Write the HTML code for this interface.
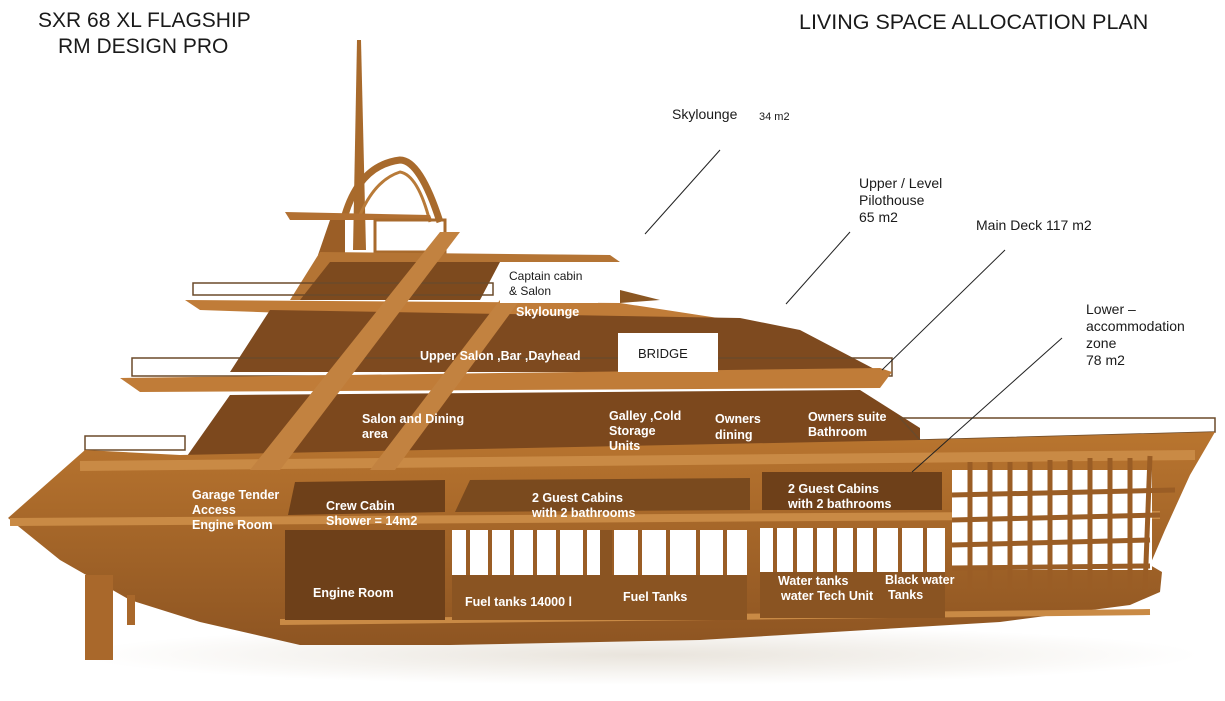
<!DOCTYPE html>
<html><head><meta charset="utf-8"><style>
html,body{margin:0;padding:0;background:#fff;}
svg{display:block}
.t{font-family:"Liberation Sans",sans-serif;fill:#1a1a1a}
.w{font-family:"Liberation Sans",sans-serif;fill:#fff;font-weight:bold;font-size:12.5px}
</style></head><body>
<svg width="1225" height="701" viewBox="0 0 1225 701" xmlns="http://www.w3.org/2000/svg">
<defs>
<linearGradient id="hull" x1="0" y1="0" x2="0" y2="1">
<stop offset="0" stop-color="#b9752f"/><stop offset="1" stop-color="#8e5522"/></linearGradient>
<radialGradient id="sh" cx="0.5" cy="0.5" r="0.5"><stop offset="0" stop-color="#e9e4dc"/><stop offset="1" stop-color="#fff"/></radialGradient>
</defs>
<rect width="1225" height="701" fill="#fff"/>
<ellipse cx="640" cy="655" rx="560" ry="30" fill="url(#sh)"/>
<!-- titles -->
<text class="t" x="38" y="27" font-size="21">SXR 68 XL FLAGSHIP</text>
<text class="t" x="58" y="53" font-size="21">RM DESIGN PRO</text>
<text class="t" x="799" y="29" font-size="21.5">LIVING SPACE ALLOCATION PLAN</text>
<text class="t" x="672" y="119" font-size="14">Skylounge</text>
<text class="t" x="759" y="120" font-size="11">34 m2</text>
<text class="t" x="859" y="188" font-size="14">Upper / Level</text>
<text class="t" x="859" y="205" font-size="14">Pilothouse</text>
<text class="t" x="859" y="222" font-size="14">65 m2</text>
<text class="t" x="976" y="230" font-size="14">Main Deck  117 m2</text>
<text class="t" x="1086" y="314" font-size="14">Lower –</text>
<text class="t" x="1086" y="331" font-size="14">accommodation</text>
<text class="t" x="1086" y="348" font-size="14">zone</text>
<text class="t" x="1086" y="365" font-size="14">78 m2</text>

<!-- mast -->
<polygon points="353,250 357,40 361,40 366,250" fill="#a86a2c"/>
<path d="M345,215 Q360,165 400,160 Q420,160 440,222" fill="none" stroke="#a86a2c" stroke-width="7"/>
<path d="M360,215 Q375,180 400,172 Q418,175 430,222" fill="none" stroke="#b87a38" stroke-width="3"/>
<!-- hardtop -->
<polygon points="285,212 430,215 432,220 290,220" fill="#b27032"/>
<polygon points="330,220 345,220 345,255 318,255" fill="#9b5e26"/>
<rect x="375" y="220" width="70" height="32" fill="none" stroke="#a86a2c" stroke-width="3"/>
<!-- top structure -->
<polygon points="320,252 610,255 620,262 420,262 300,300 290,300" fill="#b47434"/>
<polygon points="330,262 500,262 480,300 300,300" fill="#7d4a1e"/>
<!-- sky deck rail and plate -->
<rect x="193" y="283" width="300" height="12" fill="none" stroke="#6b4a2a" stroke-width="1.5"/>
<polygon points="185,300 620,303 770,326 770,330 200,310" fill="#c07c38"/>
<polygon points="620,290 660,300 620,303" fill="#8a5622"/>
<!-- upper structure -->
<polygon points="270,310 740,318 800,330 880,372 230,372" fill="#7e4a1f"/>
<rect x="132" y="358" width="760" height="18" fill="none" stroke="#6b4a2a" stroke-width="1.5"/>
<polygon points="120,378 880,368 892,372 880,388 140,392" fill="#c07c38"/>
<!-- main deck structure -->
<polygon points="230,395 860,390 920,428 920,466 180,466" fill="#7c481d"/>
<polygon points="900,418 1215,418 1215,432 920,440" fill="none" stroke="#6b4a2a" stroke-width="1.5"/>
<rect x="85" y="436" width="100" height="14" fill="none" stroke="#6b4a2a" stroke-width="1.5"/>
<!-- hull -->
<path d="M8,518 L85,450 L180,455 L920,440 L1215,432 L1190,475 L1165,530 L1150,565 L1162,572 L1160,592 L1130,605 L1000,622 L700,640 L450,645 L300,645 L200,622 L130,600 L60,560 Z" fill="url(#hull)"/>
<rect x="85" y="575" width="28" height="85" fill="#a9682b"/>
<rect x="127" y="595" width="8" height="30" fill="#a9682b"/>
<!-- deck lines -->
<path d="M80,466 L1195,455" stroke="#c98a45" stroke-width="10"/>
<path d="M10,522 L1160,515" stroke="#c98a45" stroke-width="8"/>
<path d="M280,622 L1150,612" stroke="#c98a45" stroke-width="6"/>
<!-- lower cabins -->
<polygon points="295,482 445,480 445,512 288,515" fill="#6e4019"/>
<polygon points="470,480 750,478 750,510 455,512" fill="#7a4a1e"/>
<rect x="762" y="472" width="180" height="38" fill="#6e4019"/>
<!-- engine level -->
<rect x="285" y="530" width="160" height="90" fill="#6e4019"/>
<rect x="452" y="530" width="295" height="45" fill="#fff"/>
<rect x="760" y="528" width="185" height="44" fill="#fff"/>
<g stroke="#9a5d25" stroke-width="4">
<line x1="468" y1="530" x2="468" y2="575"/><line x1="490" y1="530" x2="490" y2="575"/><line x1="512" y1="530" x2="512" y2="575"/><line x1="535" y1="530" x2="535" y2="575"/><line x1="558" y1="530" x2="558" y2="575"/><line x1="585" y1="530" x2="585" y2="575"/><line x1="612" y1="530" x2="612" y2="575"/><line x1="640" y1="530" x2="640" y2="575"/><line x1="668" y1="530" x2="668" y2="575"/><line x1="698" y1="530" x2="698" y2="575"/><line x1="725" y1="530" x2="725" y2="575"/>
<line x1="775" y1="528" x2="775" y2="572"/><line x1="795" y1="528" x2="795" y2="572"/><line x1="815" y1="528" x2="815" y2="572"/><line x1="835" y1="528" x2="835" y2="572"/><line x1="855" y1="528" x2="855" y2="572"/><line x1="875" y1="528" x2="875" y2="572"/><line x1="900" y1="528" x2="900" y2="572"/><line x1="925" y1="528" x2="925" y2="572"/>
</g>
<rect x="452" y="575" width="295" height="45" fill="#8a5422"/>
<rect x="760" y="572" width="185" height="46" fill="#8a5422"/>
<rect x="600" y="530" width="12" height="90" fill="#8a5422"/>
<!-- bow lattice -->
<rect x="952" y="470" width="200" height="100" fill="#fff"/>
<g stroke="#9a5d25" stroke-width="5">
<line x1="952" y1="495" x2="1175" y2="490"/><line x1="952" y1="520" x2="1160" y2="515"/><line x1="952" y1="545" x2="1150" y2="540"/><line x1="952" y1="568" x2="1150" y2="566"/>
<line x1="970" y1="462" x2="970" y2="590"/><line x1="990" y1="462" x2="990" y2="590"/><line x1="1010" y1="462" x2="1010" y2="590"/><line x1="1030" y1="462" x2="1030" y2="590"/><line x1="1050" y1="460" x2="1050" y2="590"/><line x1="1070" y1="460" x2="1070" y2="590"/><line x1="1090" y1="458" x2="1090" y2="590"/><line x1="1110" y1="458" x2="1110" y2="590"/><line x1="1130" y1="458" x2="1130" y2="590"/><line x1="1150" y1="456" x2="1145" y2="590"/>
</g>
<!-- diagonal beams -->
<polygon points="250,470 280,470 460,232 440,232" fill="#c28240"/>
<polygon points="370,470 395,470 520,300 500,300" fill="#c28240"/>
<!-- boxes -->
<rect x="500" y="266" width="98" height="37" fill="#fff"/>
<text class="t" x="509" y="280" font-size="12">Captain cabin</text>
<text class="t" x="509" y="295" font-size="12">&amp; Salon</text>
<rect x="618" y="333" width="100" height="39" fill="#fff"/>
<text class="t" x="638" y="358" font-size="13">BRIDGE</text>
<rect x="545" y="688" width="175" height="13" fill="#fff"/>
<!-- leader lines -->
<g stroke="#222" stroke-width="1">
<line x1="645" y1="234" x2="720" y2="150"/><line x1="786" y1="304" x2="850" y2="232"/><line x1="882" y1="370" x2="1005" y2="250"/><line x1="912" y1="472" x2="1062" y2="338"/>
</g>
<!-- white labels -->
<text class="w" x="516" y="316">Skylounge</text>
<text class="w" x="420" y="360">Upper Salon ,Bar ,Dayhead</text>
<text class="w" x="362" y="423">Salon and Dining</text>
<text class="w" x="362" y="438">area</text>
<text class="w" x="609" y="420">Galley ,Cold</text>
<text class="w" x="609" y="435">Storage</text>
<text class="w" x="609" y="450">Units</text>
<text class="w" x="715" y="423">Owners</text>
<text class="w" x="715" y="439">dining</text>
<text class="w" x="808" y="421">Owners suite</text>
<text class="w" x="808" y="436">Bathroom</text>
<text class="w" x="192" y="499">Garage Tender</text>
<text class="w" x="192" y="514">Access</text>
<text class="w" x="192" y="529">Engine Room</text>
<text class="w" x="326" y="510">Crew Cabin</text>
<text class="w" x="326" y="525">Shower = 14m2</text>
<text class="w" x="532" y="502">2 Guest Cabins</text>
<text class="w" x="532" y="517">with 2 bathrooms</text>
<text class="w" x="788" y="493">2 Guest Cabins</text>
<text class="w" x="788" y="508">with 2 bathrooms</text>
<text class="w" x="313" y="597" font-size="14">Engine Room</text>
<text class="w" x="465" y="606">Fuel tanks    14000 l</text>
<text class="w" x="623" y="601">Fuel Tanks</text>
<text class="w" x="778" y="585">Water tanks</text>
<text class="w" x="781" y="600">water Tech Unit</text>
<text class="w" x="885" y="584">Black water</text>
<text class="w" x="888" y="599">Tanks</text>
</svg>
</body></html>
